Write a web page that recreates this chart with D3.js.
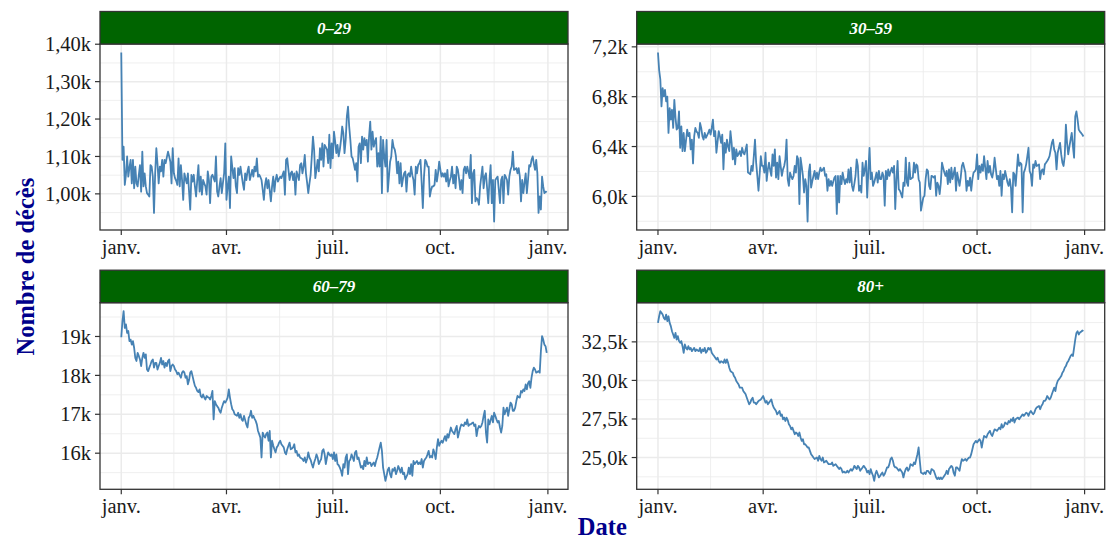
<!DOCTYPE html>
<html><head><meta charset="utf-8">
<script src="https://cdn.jsdelivr.net/npm/d3@7"></script>
<style>
html,body{margin:0;padding:0;background:#fff;}
svg{display:block;font-family:"Liberation Serif","Times New Roman",serif;}
</style></head><body>
<svg id="chart" width="1108" height="540"></svg>
<script>
// ---------- DATA ----------
const startDate = "2019-01-01"; // one value per day, Jan 1 -> Dec 31
const facetLabels = ["0\u201329", "30\u201359", "60\u201379", "80+"];

const values_0_29 = [
1378,1091,1126,1024,1051,1100,1046,1070,1091,1028,1091,1015,1073,1028,1020,1050,
1077,1006,1113,1020,1055,1020,1002,998,993,1077,1073,1046,949,1055,1122,1080,
1028,1073,1060,1091,1046,1091,1082,1098,1113,1100,1086,1028,1122,1055,1042,1035,
1024,1095,1020,1077,1037,984,1055,1040,1028,1055,1006,958,1051,1033,1051,1020,
993,1037,1077,1006,1046,998,1037,1028,1020,998,1060,1037,975,1046,1051,1042,
1033,1100,1006,993,1020,1042,1002,1030,1055,1135,984,1020,1046,962,1100,1070,
1042,1069,1020,1002,1069,1051,1073,1050,1028,1011,1055,1037,1060,1073,1037,1050,
1064,1046,1073,1060,1095,1046,1051,1045,1037,1011,984,1024,1042,1015,1037,1010,
980,1020,1046,1006,1037,1051,1033,1040,1046,1042,1051,1060,998,1091,1095,1065,
1037,1055,1060,1037,1055,998,1060,1050,1037,1077,1082,1055,1073,1104,1055,1030,
1002,1028,1051,1100,1153,1118,1042,1065,1091,1060,1122,1091,1135,1073,1131,1125,
1118,1082,1158,1069,1135,1095,1166,1140,1109,1131,1100,
1118,1144,1180,1162,1109,1144,1207,1233,1180,1144,1100,1095,1080,1064,1082,
1033,1126,1135,1082,1153,1118,1149,1130,1144,1086,1153,1193,1118,1166,1126,1140,
1149,1073,1109,1073,1153,1002,1144,1100,1073,1144,1006,1046,1086,1100,1144,1125,
1118,1100,1055,1086,1028,1082,1020,1040,1055,1060,1006,1051,1055,1046,1073,1050,
1037,998,1073,1055,1077,1082,1091,1030,962,1046,1091,1086,1073,1073,993,1010,
1020,1020,1024,1064,1033,1055,1086,1065,1046,1055,1046,1055,1033,1064,1020,1035,
1046,1073,1028,1051,1015,1073,1064,1040,1011,1037,1002,1064,1073,1055,1073,1058,
1042,1104,975,1055,1064,980,989,985,971,1020,1046,1073,1015,1046,1055,1015,
975,1037,1077,975,1037,926,1037,1042,1046,1011,975,1037,1046,975,1051,1045,
1037,998,1046,1064,1073,1113,1064,1066,1069,1055,1069,1046,980,1037,1002,1030,
1055,1002,1037,1077,1073,1091,1100,1080,1064,1091,1055,949,993,958,1046,1020,
1002,1006,1004
];

const values_30_59 = [
7155,7014,6940,6722,6868,6802,6855,6762,6800,6509,6709,6616,6695,6549,6775,6630,
6536,6549,6682,6390,6562,6363,6509,6363,6450,6536,6483,6509,6377,6456,6265,6483,6549,6520,
6509,6470,6589,6549,6483,6456,6509,6470,6490,6509,6536,6496,6549,6616,6483,6523,6350,6440,
6523,6483,6430,6496,6217,6430,6350,6456,6400,6363,6523,6430,6297,6390,6257,6377,6323,6340,
6363,6323,6390,6350,6337,6377,6416,6191,6185,6177,6244,6204,6323,6456,6270,6164,6045,6180,
6323,6244,6244,6191,6350,6124,6217,6270,6210,6164,6337,6244,6377,6151,6270,6138,6323,6240,
6164,6217,6244,6297,6456,6138,6084,6191,6160,6138,6164,6244,6191,6323,6297,5938,6310,6240,
6164,6031,6138,6084,5798,6191,6257,6071,6120,6164,6204,6138,6191,6138,6191,6230,6204,6215,
6230,6164,6177,6045,6138,6084,6124,6084,6120,6151,6164,5859,6164,5952,6164,6098,6191,6140,
6098,6138,6111,6217,6111,6230,6084,6045,6100,6164,6297,6244,6045,6084,6031,6270,6164,6220,
6284,5991,6204,6390,6138,6191,6084,6111,6150,6191,6111,6204,6138,
6138,6191,6164,5925,6204,6138,6217,6164,6200,6230,6191,6244,5898,6138,6284,6058,6045,6020,
5991,6111,6084,6310,6111,6084,6270,6138,6145,6151,6270,6191,6257,6244,6138,6111,5885,5940,
5991,6005,6138,6217,6204,6084,6058,6164,6160,6151,6164,6005,6111,6084,6018,6111,6270,6230,
6191,6164,6204,6098,6217,6111,6230,6138,6185,6230,6045,6191,6138,6084,6151,6244,6270,6230,
6191,6045,6124,6084,6151,6045,6138,6191,6200,6217,6337,6138,6244,6191,6257,6204,6323,6230,
6138,6284,6191,6244,6177,6151,6204,6310,6225,6138,6164,6084,6204,6005,6177,6138,6204,6160,
6111,6084,6138,6071,5872,6191,6177,6084,6210,6337,6244,6270,6257,5872,6191,6217,6257,6320,
6390,6204,6177,6084,6257,6230,6284,6244,6250,6257,6138,6204,6217,6177,6257,6270,6284,6300,
6323,6377,6430,6456,6377,6350,6217,6350,6390,6430,6337,6270,6244,6323,6576,6430,6337,6400,
6456,6509,6403,6310,6642,6682,6616,6536,6520,6509,6496,6480
];

const values_60_79 = [
18980,19390,19650,19220,19310,19090,19140,18880,18920,18790,18880,18710,18450,18370,18580,18500,
18410,18240,18450,18580,18450,18540,18150,18110,18200,18280,18370,18410,18200,18320,18320,18150,
18240,18320,18450,18280,18370,18200,18320,18240,18370,18410,18110,
18240,18280,18240,18150,18110,18030,18070,18000,17940,18070,18110,18070,17940,17980,17770,17880,
18070,18110,17980,17850,17730,17680,17600,17570,17640,17470,17430,17510,17430,17380,17470,17440,
17430,17380,17470,17600,16870,17340,17260,17210,17170,17090,17040,17170,17260,17340,17300,17360,
17430,17640,17430,17260,17130,17090,17000,16980,16960,17040,16910,17000,16870,16830,16960,16850,
16740,16660,16910,16960,17090,16910,16960,16890,16830,16740,16570,16490,16400,15890,16530,16450,
16400,16490,16530,16320,16570,15890,16320,16200,16100,16020,16150,16190,16270,16320,16230,16190,
16150,16020,15970,16100,16190,16270,16100,16120,16150,16230,16020,16060,15930,15970,15890,15870,
15850,15800,15890,15760,15850,16020,15890,15830,15720,15630,15760,15850,15970,15890,15720,15790,
15850,16060,16100,15970,15720,15890,16020,15970,15930,15970,15850,16020,15800,15970,15720,15690,
15630,15550,
15420,15720,15630,15890,15970,15460,15800,15840,15970,15890,15800,16020,16060,15850,15890,15760,
15630,15670,15590,15800,15670,15890,15720,15760,15760,15670,15720,15760,15670,15800,15890,16020,
16150,16270,16060,15630,15460,15290,15420,15570,15630,15460,15380,15590,15550,15630,15460,15550,
15670,15590,15500,15630,15460,15500,15330,15400,15460,15630,15460,15720,15420,15800,15720,15760,
15800,15720,15760,15720,15850,15630,15800,15850,15890,15970,16060,15890,15930,15890,16100,16000,
15850,16150,16360,16190,16270,16320,16270,16360,16440,16320,16490,16400,16530,16660,16570,16530,
16490,16620,16700,16400,16530,16660,16740,16720,16700,16790,16740,16870,16700,16740,16740,16770,
16790,16700,16740,16440,16620,16700,16660,16700,16790,16960,17090,16530,16270,16870,16740,16850,
16960,16790,17040,16960,16870,16790,16830,16660,16530,16700,17170,17000,17090,17170,16960,17130,
17300,17260,17090,17090,17170,17340,17470,17440,17430,17600,17560,17640,17600,17770,17640,17800,
17850,17680,17940,18110,18200,18150,18070,18090,18110,18070,18620,19010,18920,18790,18750,18580
];

const values_80plus = [
33730,34160,34490,34380,34270,34050,33950,34270,33840,34160,33730,33520,33190,32980,32760,33080,
32650,32870,32550,32440,32550,32220,31790,32330,32110,32010,32220,32010,32110,31900,32010,32110,
31900,32010,31940,31900,32110,31790,32010,31900,32110,31790,31900,32110,32010,32110,31790,31680,
31580,31470,31360,31470,31250,31140,31250,31200,31140,31360,31140,31360,31140,30820,30610,30550,
30500,30280,30170,29960,29850,29740,29530,29530,29530,29310,29210,29100,28880,28670,28450,28560,
28770,28880,28560,28560,28450,28560,28670,28720,28770,28880,28990,28770,28560,28670,28450,28560,
28670,28770,28450,28240,28130,28020,27800,27910,28020,27700,27800,27480,27590,27370,27590,27430,
27160,27050,26830,26940,26730,26510,26620,26560,26400,26620,26300,26080,26190,25860,25860,25760,
25650,25650,25430,25220,25110,25000,24900,24950,25000,24790,25110,24900,24790,25000,24680,24730,
24790,24680,24570,24570,24570,24680,24460,24520,24570,24460,24360,24250,24360,24250,24030,24090,
24030,24030,24140,24030,24140,24250,24140,24250,24460,24360,24250,24460,24360,24140,24250,24350,
24460,24360,24250,24030,24140,23930,24250,24000,23820,23490,23930,24140,23930,23710,23800,
23930,24030,23820,23930,24140,24360,24360,24570,24900,25000,24790,24460,24360,24360,24250,24140,
24250,24140,24030,23710,24030,24250,24360,24140,24250,24570,24520,24460,24680,24570,24900,25220,
25650,24790,24030,23980,23930,24030,23930,24140,24140,24030,23930,24250,24200,24140,23930,23710,
23600,23710,23600,23710,23600,23700,23820,23930,24140,23930,24250,24360,24460,24360,24000,23820,
24360,24360,24250,24140,24570,24900,24790,24840,24900,24790,24900,25000,25000,25220,25540,25860,
25970,26080,25970,26080,26190,26080,25650,26080,26400,26350,26300,26510,26620,26730,26510,26400,
26620,26830,26780,26730,26830,26940,26830,27160,26940,27050,27270,27210,27160,27370,27270,27480,
27370,27590,27270,27480,27540,27590,27480,27590,27700,27800,27700,27800,27910,27860,27700,27910,
28020,27910,27800,27910,28130,28240,28290,28340,28130,28340,28450,28670,28670,28770,28990,28880,
28770,28880,29100,29310,29530,29310,29740,29960,30070,30170,30280,30500,30610,30820,30930,31140,
31250,31420,31580,31680,31580,32110,32650,33080,33190,32980,33100,33150,33240,33200
];

const xTickDates = ["2019-01-01", "2019-04-01", "2019-07-01", "2019-10-01", "2020-01-01"];
const xTickLabels = ["janv.", "avr.", "juil.", "oct.", "janv."];

const yTicks_0_29 = [1000, 1100, 1200, 1300, 1400];
const yTickLabels_0_29 = ["1,00k", "1,10k", "1,20k", "1,30k", "1,40k"];
const yTicks_30_59 = [6000, 6400, 6800, 7200];
const yTickLabels_30_59 = ["6,0k", "6,4k", "6,8k", "7,2k"];
const yTicks_60_79 = [16000, 17000, 18000, 19000];
const yTickLabels_60_79 = ["16k", "17k", "18k", "19k"];
const yTicks_80plus = [25000, 27500, 30000, 32500];
const yTickLabels_80plus = ["25,0k", "27,5k", "30,0k", "32,5k"];

const xTitle = "Date";
const yTitle = "Nombre de d\u00e9c\u00e8s";

// ---------- DRAW ----------
const svg = d3.select("#chart");
const parse = d3.timeParse("%Y-%m-%d");
const t0 = parse(startDate);

const panels = [
  {label: facetLabels[0], values: values_0_29, ticks: yTicks_0_29, tickLabels: yTickLabels_0_29},
  {label: facetLabels[1], values: values_30_59, ticks: yTicks_30_59, tickLabels: yTickLabels_30_59},
  {label: facetLabels[2], values: values_60_79, ticks: yTicks_60_79, tickLabels: yTickLabels_60_79},
  {label: facetLabels[3], values: values_80plus, ticks: yTicks_80plus, tickLabels: yTickLabels_80plus}
];

const cols = [[100, 568], [636.7, 1104.7]];
const rows = [{stripTop: 11.5, top: 44, bottom: 230}, {stripTop: 270.2, top: 302.7, bottom: 489.3}];

const tickFont = 20.5;
const gridCol = "#EBEBEB";
const borderCol = "#333333";

const majorDates = xTickDates.map(parse);
const minorDates = [];
for (let i = 0; i < majorDates.length - 1; i++) {
  minorDates.push(new Date((+majorDates[i] + +majorDates[i + 1]) / 2));
}

panels.forEach((p, k) => {
  const [x0, x1] = cols[k % 2];
  const r = rows[Math.floor(k / 2)];
  const data = p.values.map((v, i) => ({date: d3.timeDay.offset(t0, i), value: v}));

  const dExt = d3.extent(data, d => d.date);
  const span = dExt[1] - dExt[0];
  const x = d3.scaleTime()
    .domain([new Date(+dExt[0] - 0.05 * span), new Date(+dExt[1] + 0.05 * span)])
    .range([x0, x1]);
  const yExt = d3.extent(data, d => d.value);
  const ys = yExt[1] - yExt[0];
  const y = d3.scaleLinear()
    .domain([yExt[0] - 0.05 * ys, yExt[1] + 0.05 * ys])
    .range([r.bottom, r.top]);

  const g = svg.append("g");
  const [ylo, yhi] = y.domain();

  // minor grid
  const step = p.ticks[1] - p.ticks[0];
  const yMinor = [p.ticks[0] - step / 2].concat(p.ticks.map(t => t + step / 2))
    .filter(v => v >= ylo && v <= yhi);
  g.selectAll(".ymin").data(yMinor).enter().append("line")
    .attr("x1", x0).attr("x2", x1)
    .attr("y1", d => y(d)).attr("y2", d => y(d))
    .attr("stroke", gridCol).attr("stroke-width", 0.8);
  g.selectAll(".xmin").data(minorDates).enter().append("line")
    .attr("x1", d => x(d)).attr("x2", d => x(d))
    .attr("y1", r.top).attr("y2", r.bottom)
    .attr("stroke", gridCol).attr("stroke-width", 0.8);
  // major grid
  g.selectAll(".ymaj").data(p.ticks).enter().append("line")
    .attr("x1", x0).attr("x2", x1)
    .attr("y1", d => y(d)).attr("y2", d => y(d))
    .attr("stroke", gridCol).attr("stroke-width", 1.5);
  g.selectAll(".xmaj").data(majorDates).enter().append("line")
    .attr("x1", d => x(d)).attr("x2", d => x(d))
    .attr("y1", r.top).attr("y2", r.bottom)
    .attr("stroke", gridCol).attr("stroke-width", 1.5);

  // series line
  const line = d3.line().x(d => x(d.date)).y(d => y(d.value));
  g.append("path").datum(data)
    .attr("d", line)
    .attr("fill", "none")
    .attr("stroke", "steelblue")
    .attr("stroke-width", 1.8)
    .attr("stroke-linejoin", "round");

  // panel border
  g.append("rect")
    .attr("x", x0).attr("y", r.top).attr("width", x1 - x0).attr("height", r.bottom - r.top)
    .attr("fill", "none").attr("stroke", borderCol).attr("stroke-width", 1.3);

  // strip
  g.append("rect")
    .attr("x", x0).attr("y", r.stripTop).attr("width", x1 - x0).attr("height", r.top - r.stripTop)
    .attr("fill", "#006400").attr("stroke", borderCol).attr("stroke-width", 1.3);
  g.append("text")
    .attr("x", (x0 + x1) / 2).attr("y", (r.stripTop + r.top) / 2).attr("dy", "0.35em")
    .attr("text-anchor", "middle")
    .attr("fill", "white").attr("font-weight", "bold").attr("font-style", "italic")
    .attr("font-size", 17)
    .text(p.label);

  // y axis ticks + labels
  g.selectAll(".ytk").data(p.ticks).enter().append("line")
    .attr("x1", x0 - 5).attr("x2", x0)
    .attr("y1", d => y(d)).attr("y2", d => y(d))
    .attr("stroke", borderCol).attr("stroke-width", 1.2);
  g.selectAll(".ytl").data(p.ticks).enter().append("text")
    .attr("x", x0 - 9).attr("y", d => y(d)).attr("dy", "0.35em")
    .attr("text-anchor", "end").attr("font-size", tickFont).attr("fill", "#1a1a1a")
    .text((d, i) => p.tickLabels[i]);

  // x axis ticks + labels
  g.selectAll(".xtk").data(majorDates).enter().append("line")
    .attr("x1", d => x(d)).attr("x2", d => x(d))
    .attr("y1", r.bottom).attr("y2", r.bottom + 5)
    .attr("stroke", borderCol).attr("stroke-width", 1.2);
  g.selectAll(".xtl").data(majorDates).enter().append("text")
    .attr("x", d => x(d)).attr("y", r.bottom + 23.5)
    .attr("text-anchor", "middle").attr("font-size", tickFont).attr("fill", "#1a1a1a")
    .text((d, i) => xTickLabels[i]);
});

// axis titles
svg.append("text")
  .attr("x", (cols[0][0] + cols[1][1]) / 2).attr("y", 535)
  .attr("text-anchor", "middle").attr("font-weight", "bold").attr("font-size", 24.5)
  .attr("fill", "#00008B").text(xTitle);
svg.append("text")
  .attr("transform", `translate(33.5,${(rows[0].top + rows[1].bottom) / 2}) rotate(-90)`)
  .attr("text-anchor", "middle").attr("font-weight", "bold").attr("font-size", 24.5)
  .attr("fill", "#00008B").text(yTitle);
</script>
</body></html>
